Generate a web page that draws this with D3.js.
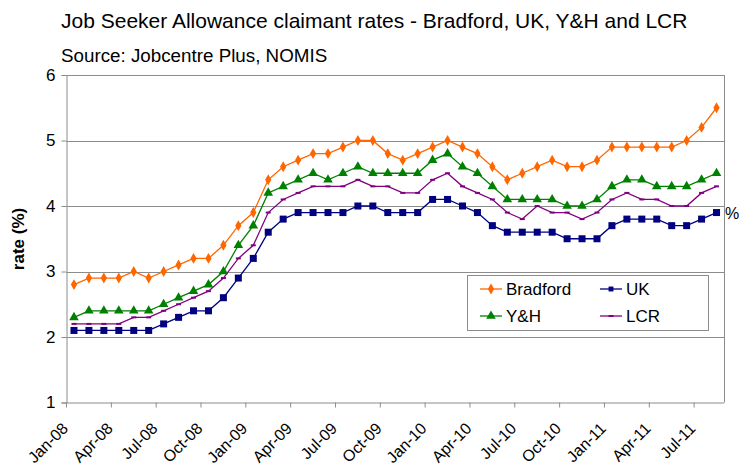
<!DOCTYPE html>
<html>
<head>
<meta charset="utf-8">
<script src="https://cdn.jsdelivr.net/npm/d3@7"></script>
<style>
  html, body { margin: 0; padding: 0; background: #fff; }
  svg { display: block; font-family: "Liberation Sans", Arial, sans-serif; }
</style>
</head>
<body>
<svg id="chart" width="739" height="465"></svg>
<script>
const months = [
  "Jan-08","Feb-08","Mar-08","Apr-08","May-08","Jun-08","Jul-08","Aug-08","Sep-08","Oct-08","Nov-08","Dec-08",
  "Jan-09","Feb-09","Mar-09","Apr-09","May-09","Jun-09","Jul-09","Aug-09","Sep-09","Oct-09","Nov-09","Dec-09",
  "Jan-10","Feb-10","Mar-10","Apr-10","May-10","Jun-10","Jul-10","Aug-10","Sep-10","Oct-10","Nov-10","Dec-10",
  "Jan-11","Feb-11","Mar-11","Apr-11","May-11","Jun-11","Jul-11","Aug-11"
];
const bradford = [2.8,2.9,2.9,2.9,3.0,2.9,3.0,3.1,3.2,3.2,3.4,3.7,3.9,4.4,4.6,4.7,4.8,4.8,4.9,5.0,5.0,4.8,4.7,4.8,4.9,5.0,4.9,4.8,4.6,4.4,4.5,4.6,4.7,4.6,4.6,4.7,4.9,4.9,4.9,4.9,4.9,5.0,5.2,5.5];
const uk       = [2.1,2.1,2.1,2.1,2.1,2.1,2.2,2.3,2.4,2.4,2.6,2.9,3.2,3.6,3.8,3.9,3.9,3.9,3.9,4.0,4.0,3.9,3.9,3.9,4.1,4.1,4.0,3.9,3.7,3.6,3.6,3.6,3.6,3.5,3.5,3.5,3.7,3.8,3.8,3.8,3.7,3.7,3.8,3.9];
const yh       = [2.3,2.4,2.4,2.4,2.4,2.4,2.5,2.6,2.7,2.8,3.0,3.4,3.7,4.2,4.3,4.4,4.5,4.4,4.5,4.6,4.5,4.5,4.5,4.5,4.7,4.8,4.6,4.5,4.3,4.1,4.1,4.1,4.1,4.0,4.0,4.1,4.3,4.4,4.4,4.3,4.3,4.3,4.4,4.5];
const lcr      = [2.2,2.2,2.2,2.2,2.3,2.3,2.4,2.5,2.6,2.7,2.9,3.2,3.4,3.9,4.1,4.2,4.3,4.3,4.3,4.4,4.3,4.3,4.2,4.2,4.4,4.5,4.3,4.2,4.1,3.9,3.8,4.0,3.9,3.9,3.8,3.9,4.1,4.2,4.1,4.1,4.0,4.0,4.2,4.3];
const yTicks = [1,2,3,4,5,6];
const xTickLabels = ["Jan-08","Apr-08","Jul-08","Oct-08","Jan-09","Apr-09","Jul-09","Oct-09","Jan-10","Apr-10","Jul-10","Oct-10","Jan-11","Apr-11","Jul-11"];

const series = [
  {name: "Bradford", values: bradford, color: "#FF6600", marker: "diamond"},
  {name: "Y&H",      values: yh,       color: "#008000", marker: "triangle"},
  {name: "UK",       values: uk,       color: "#000080", marker: "square"},
  {name: "LCR",      values: lcr,      color: "#800080", marker: "dash"}
];

const svg = d3.select("#chart");
const L = 66.5, R = 724, T = 75, B = 402.5;
const gridColor = "#8c8c8c";

const x = d3.scaleBand().domain(months).range([L, R]).padding(0);
const y = d3.scaleLinear().domain([1, 6]).range([B, T]);
const cx = m => x(m) + x.bandwidth() / 2;

// titles
svg.append("text").attr("x", 61).attr("y", 28).attr("font-size", 21).attr("fill", "#000")
  .text("Job Seeker Allowance claimant rates - Bradford, UK, Y&H and LCR");
svg.append("text").attr("x", 61).attr("y", 62).attr("font-size", 18.8).attr("fill", "#000")
  .text("Source: Jobcentre Plus, NOMIS");

// gridlines
svg.append("g").selectAll("line").data(yTicks.filter(v => v > 1)).join("line")
  .attr("x1", L).attr("x2", R).attr("y1", d => Math.round(y(d)) + 0.5).attr("y2", d => Math.round(y(d)) + 0.5)
  .attr("stroke", gridColor).attr("stroke-width", 1);
// right border
svg.append("line").attr("x1", R + 0.5).attr("x2", R + 0.5).attr("y1", T).attr("y2", B)
  .attr("stroke", gridColor);

// y axis
const yAxis = d3.axisLeft(y).tickValues(yTicks).tickSize(5).tickPadding(6).tickFormat(d3.format("d"));
const gy = svg.append("g").attr("transform", `translate(${L},0)`).call(yAxis);
gy.select(".domain").attr("stroke", gridColor);
gy.selectAll(".tick line").attr("stroke", gridColor);
gy.selectAll(".tick text").attr("font-size", 17).attr("font-family", "Liberation Sans, Arial, sans-serif").attr("fill", "#000");

// x axis (ticks between categories, every 3 months)
const xAxis = d3.axisBottom(x).tickValues(xTickLabels).tickSize(5).tickFormat("");
const gx = svg.append("g").attr("transform", `translate(0,${B})`).call(xAxis);
gx.select(".domain").attr("stroke", gridColor).attr("d", `M${L},0.5H${R}`);
gx.selectAll(".tick").attr("transform", d => `translate(${x(d)},0)`);
gx.selectAll(".tick line").attr("stroke", gridColor);
gx.selectAll(".tick").append("text")
  .attr("text-anchor", "end")
  .attr("transform", "translate(2.5,27) rotate(-45)")
  .attr("font-size", 16).attr("fill", "#000")
  .attr("font-family", "Liberation Sans, Arial, sans-serif")
  .text(d => d);

// axis titles
svg.append("text").attr("transform", "translate(24,239) rotate(-90)").attr("text-anchor", "middle")
  .attr("font-size", 17).attr("font-weight", "bold").text("rate (%)");
svg.append("text").attr("x", 725).attr("y", 219).attr("font-size", 16).text("%");

// lines + markers
const line = d3.line().x((d, i) => cx(months[i])).y(d => y(d));
function drawMarker(g, type, color) {
  if (type === "diamond") {
    g.append("path").attr("d", d3.symbol().type(d3.symbolDiamond).size(34)()).attr("fill", color);
  } else if (type === "triangle") {
    g.append("path").attr("d", d3.symbol().type(d3.symbolTriangle).size(40)()).attr("fill", color);
  } else if (type === "square") {
    g.append("rect").attr("x", -3.5).attr("y", -3.5).attr("width", 7).attr("height", 7).attr("fill", color);
  } else {
    g.append("rect").attr("x", -2.5).attr("y", -1).attr("width", 5).attr("height", 2).attr("fill", color);
  }
}
const drawOrder = [series[3], series[2], series[1], series[0]];
drawOrder.forEach(s => {
  svg.append("path").datum(s.values).attr("d", line).attr("fill", "none")
    .attr("stroke", s.color).attr("stroke-width", 1.3);
  svg.append("g").selectAll("g").data(s.values).join("g")
    .attr("transform", (d, i) => `translate(${cx(months[i])},${y(d)})`)
    .each(function() { drawMarker(d3.select(this), s.marker, s.color); });
});

// legend
const lg = svg.append("g");
lg.append("rect").attr("x", 467.5).attr("y", 275.5).attr("width", 241).attr("height", 55)
  .attr("fill", "#fff").attr("stroke", gridColor);
const legendPos = [
  {s: series[0], x: 480, y: 289},
  {s: series[2], x: 600, y: 289},
  {s: series[1], x: 480, y: 316},
  {s: series[3], x: 600, y: 316}
];
legendPos.forEach(p => {
  lg.append("line").attr("x1", p.x).attr("x2", p.x + 22).attr("y1", p.y).attr("y2", p.y)
    .attr("stroke", p.s.color).attr("stroke-width", 1.3);
  const mg = lg.append("g").attr("transform", `translate(${p.x + 11},${p.y})`);
  drawMarker(mg, p.s.marker, p.s.color);
  if (p.s.marker === "square") mg.attr("transform", `translate(${p.x + 11},${p.y}) scale(0.7)`);
  lg.append("text").attr("x", p.x + 26).attr("y", p.y + 6).attr("font-size", 17).text(p.s.name);
});
</script>
</body>
</html>
